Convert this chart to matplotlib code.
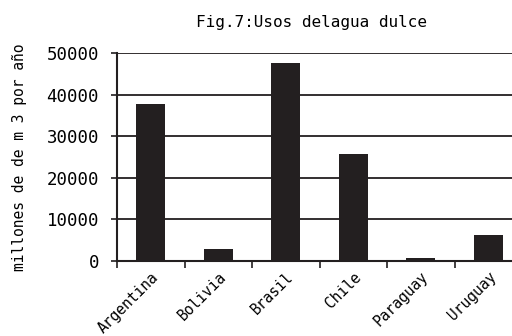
import matplotlib
matplotlib.use("Agg")
import matplotlib.pyplot as plt

categories = ["Argentina", "Bolivia", "Brasil", "Chile", "Paraguay", "Uruguay"]
values = [37700, 2900, 47600, 25700, 700, 6200]
yticks = [0, 10000, 20000, 30000, 40000, 50000]

plt.rcParams['font.family'] = ['DejaVu Sans Mono']

fig = plt.figure(figsize=(5.12, 3.36), dpi=100)
ax = fig.add_axes([117/512, 1-261/336, 405/512, 208/336])

x = list(range(len(categories)))
ax.bar(x, values, width=0.43, color="#231f20", zorder=3)
ax.set_xlim(-0.5, len(categories) - 0.5)
ax.set_ylim(0, 50000)
ax.set_yticks(yticks)
ax.set_yticklabels([str(v) for v in yticks], fontsize=12.5)
ax.yaxis.grid(True, color="#231f20", linewidth=1.3, zorder=0)
ax.set_xticks(x)
ax.set_xticklabels(categories, rotation=45, ha="right", rotation_mode="anchor", fontsize=10.5)
ax.set_xticks([i - 0.5 for i in x], minor=True)
ax.tick_params(axis="x", which="major", length=0, pad=6)
ax.tick_params(axis="x", which="minor", length=5, width=1.2, color="#231f20")
ax.tick_params(axis="y", length=4, width=1.2, color="#231f20", pad=9)
for s in ["top", "right"]:
    ax.spines[s].set_visible(False)
ax.spines["left"].set_linewidth(1.5)
ax.spines["bottom"].set_linewidth(1.5)
ax.spines["left"].set_color("#231f20")
ax.spines["bottom"].set_color("#231f20")

ax.set_ylabel("millones de de m 3 por año", fontsize=10.5, labelpad=14)
fig.text(312/512, 1-22/336, "Fig.7:Usos delagua dulce", ha="center", va="center", fontsize=11.5)

fig.savefig("out.png", dpi=100)
